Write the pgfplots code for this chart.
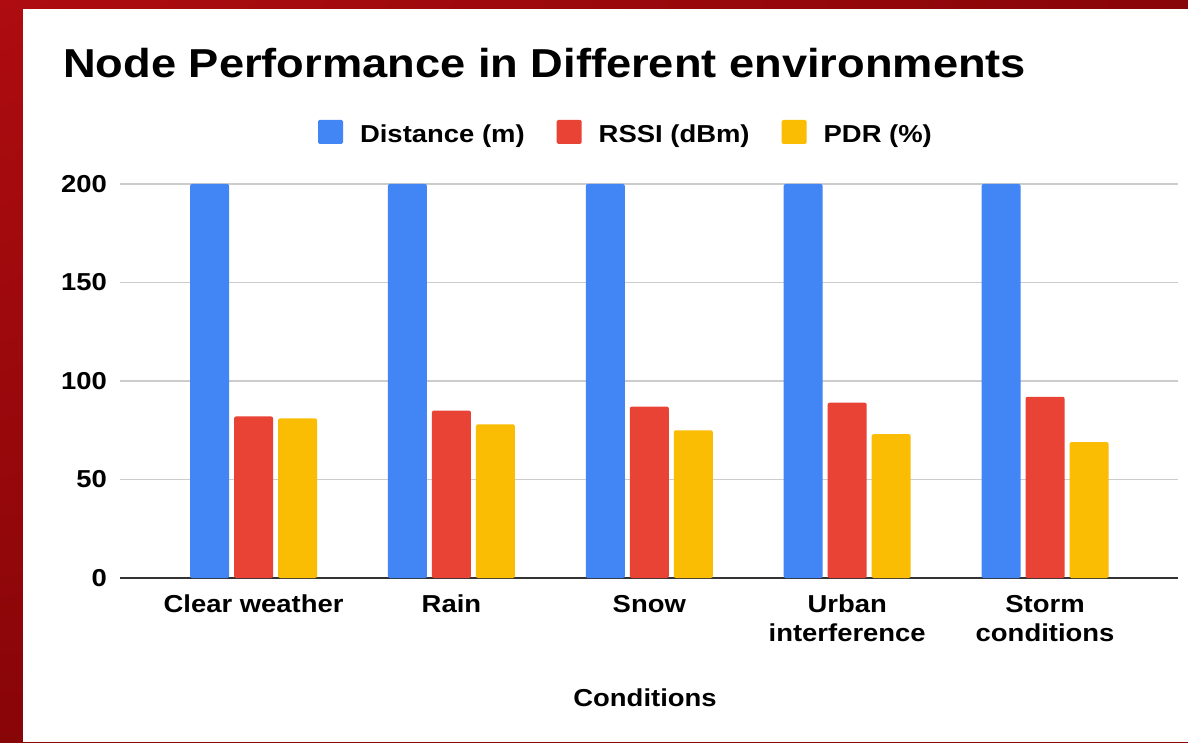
\documentclass[border=0pt]{standalone}
\usepackage{fontspec}
\setmainfont{Liberation Sans}[FakeStretch=1.12]
\usepackage{pgfplots}
\pgfplotsset{compat=1.18}
\usetikzlibrary{shadings}
\definecolor{cblue}{HTML}{4285F4}
\definecolor{cred}{HTML}{E84335}
\definecolor{cyellow}{HTML}{FBBC04}
\definecolor{bgA}{HTML}{AE0C10}
\definecolor{bgB}{HTML}{880508}
\definecolor{gridc}{HTML}{CCCCCC}
\definecolor{axc}{HTML}{333333}
\newcommand{\lblfont}{\fontsize{24.5}{29}\selectfont\bfseries}
\pgfplotsset{
  sq/.style={legend image code/.code={\fill[rounded corners=1.5pt] (0pt,-9.5pt) rectangle (25pt,14.5pt);}}
}
\begin{document}
\begin{tikzpicture}[x=1pt,y=1pt]
\shade[upper left=bgA, upper right=bgB, lower left=bgB, lower right=bgB] (0,0) rectangle (1188,742);
\fill[white] (23,0) rectangle (1188,733);
\begin{axis}[
  at={(120pt,164pt)}, anchor=south west,
  scale only axis, width=1058pt, height=394pt,
  xmin=-0.675, xmax=4.672, ymin=0, ymax=200,
  ybar=5pt, bar width=39pt,
  axis line style={draw=none},
  major tick length=0pt,
  ytick={0,50,100,150,200},
  ymajorgrids=true,
  major grid style={draw=gridc, line width=1.6pt},
  extra y ticks={0}, extra y tick labels={},
  extra y tick style={ymajorgrids=true, major grid style={draw=axc, line width=1.8pt}},
  xtick={0,1,2,3,4},
  xticklabels={Clear weather, Rain, Snow, Urban\\interference, Storm\\conditions},
  xticklabel style={align=center, font=\lblfont, inner sep=0pt, yshift=-17pt},
  yticklabel style={font=\lblfont, inner sep=0pt, xshift=-13pt},
  /pgf/number format/assume math mode=true,
  xlabel={Conditions},
  xlabel style={at={(rel axis cs:0.5,0)}, anchor=base, yshift=-128pt, xshift=-4pt, font=\lblfont, inner sep=0pt},
  title={Node Performance in Different environments},
  title style={at={(rel axis cs:-0.0539,1.2563)}, anchor=base west, inner sep=0pt, font=\fontsize{40.4}{48}\selectfont\bfseries},
  legend columns=3,
  legend style={at={(rel axis cs:0.187,1.132)}, anchor=west, draw=none, fill=none, inner sep=0pt,
    nodes={inner sep=0pt, font=\lblfont},
    /tikz/every odd column/.append style={column sep=17pt},
    /tikz/every even column/.append style={column sep=32pt}},
  legend cell align=left,
]
\addplot[fill=cblue, draw=none, rounded corners=2pt, sq] coordinates {(0,200) (1,200) (2,200) (3,200) (4,200)};
\addplot[fill=cred, draw=none, rounded corners=2pt, sq] coordinates {(0,82) (1,85) (2,87) (3,89) (4,92)};
\addplot[fill=cyellow, draw=none, rounded corners=2pt, sq] coordinates {(0,81) (1,78) (2,75) (3,73) (4,69)};
\legend{Distance (m), RSSI (dBm), PDR (\%)}
\end{axis}
\end{tikzpicture}
\end{document}
